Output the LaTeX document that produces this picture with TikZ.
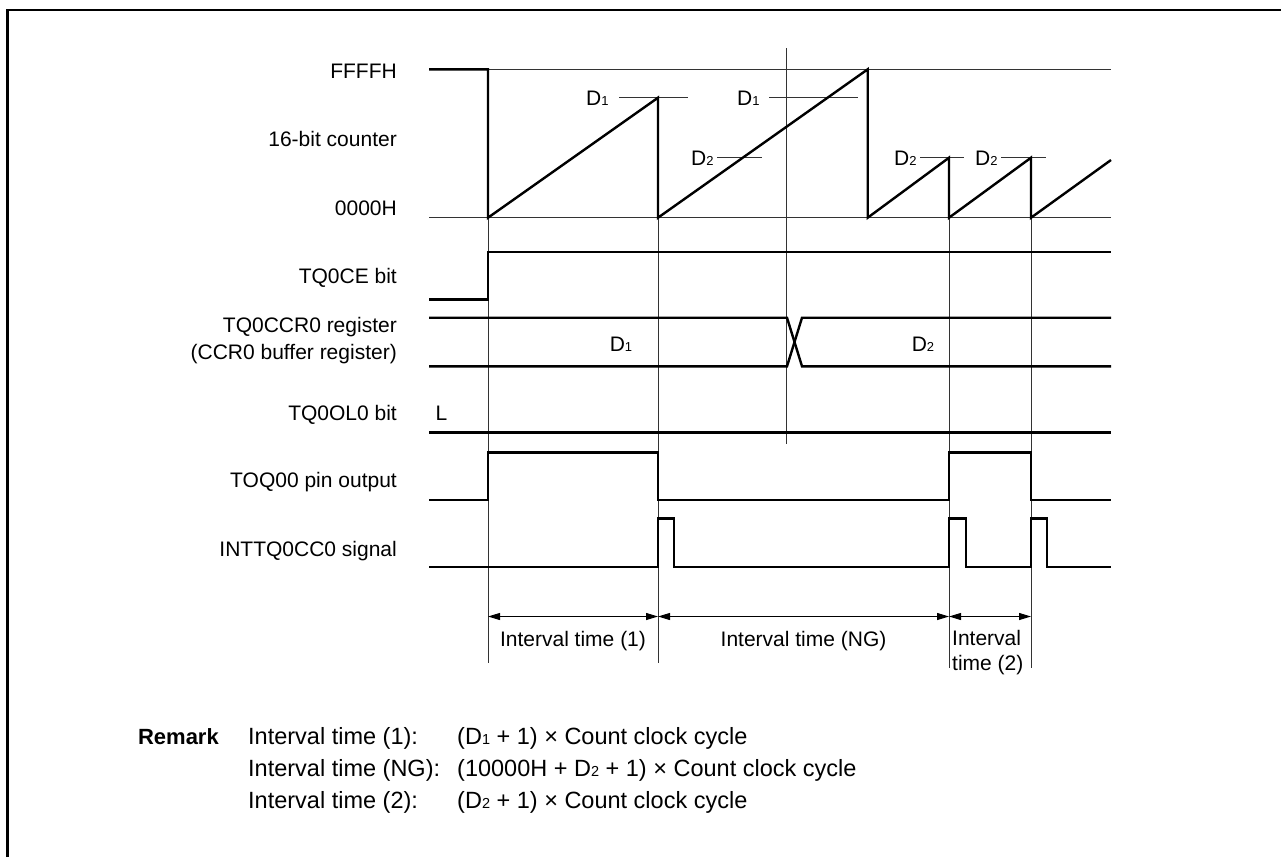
\documentclass[tikz,border=0pt]{standalone}
\usepackage{fontspec}
\setmainfont{Liberation Sans}
\usetikzlibrary{arrows.meta}
\newcommand\sbs[1]{{\fontsize{13}{13}\selectfont #1}}
\newcommand\sbr[1]{{\fontsize{14.5}{14.5}\selectfont #1}}
\begin{document}
\begin{tikzpicture}[x=1pt,y=-1pt,
  sig/.style={line width=2.4pt, line join=miter},
  thn/.style={line width=0.9pt, black!80},
  lbl/.style={anchor=base east, inner sep=0pt, font=\fontsize{21}{25}\selectfont},
  txt/.style={anchor=base, inner sep=0pt, font=\fontsize{21}{25}\selectfont},
  txtw/.style={anchor=base west, inner sep=0pt, font=\fontsize{21}{25}\selectfont},
  remw/.style={anchor=base west, inner sep=0pt, font=\fontsize{23.5}{28}\selectfont},
  dim/.style={line width=1pt, {Triangle[length=12pt,width=7pt]}-{Triangle[length=12pt,width=7pt]}}
]
\fill[white] (0,0) rectangle (1281,857);
\useasboundingbox (0,0) rectangle (1281,857);
% frame
\draw[line width=2.7pt] (7.5,857) -- (7.5,10) -- (1281,10);

% row labels
\node[lbl] (lF) at (397,78) {FFFFH};
\node[lbl] (lC) at (397,146.5) {16-bit counter};
\node[lbl] (l0) at (397,215.5) {0000H};
\node[lbl] (lCE) at (397,283.5) {TQ0CE bit};
\node[lbl] (lCCR) at (397,332.5) {TQ0CCR0 register};
\node[lbl] (lBuf) at (397,359) {(CCR0 buffer register)};
\node[lbl] (lOL) at (397,420) {TQ0OL0 bit};
\node[lbl] (lTO) at (397,487.5) {TOQ00 pin output};
\node[lbl] (lINT) at (397,556) {INTTQ0CC0 signal};

% thin reference lines
\draw[thn] (429,69.3) -- (1111,69.3);
\draw[thn] (429,217.7) -- (1111,217.7);
\draw[thn] (786,48) -- (786,444);
\draw[thn] (488,217.7) -- (488,663);
\draw[thn] (658,97.7) -- (658,663);
\draw[thn] (949,157.7) -- (949,668);
\draw[thn] (1031,157.7) -- (1031,668);

% compare level ticks and labels
\draw[thn] (619,97.7) -- (688,97.7);
\node[txtw] (d1a) at (586,105) {D\sbs{1}};
\draw[thn] (769,97.7) -- (858,97.7);
\node[txtw] (d1b) at (737,105) {D\sbs{1}};
\draw[thn] (717,157.7) -- (762,157.7);
\node[txtw] (d2a) at (691,165) {D\sbs{2}};
\draw[thn] (920,157.7) -- (964,157.7);
\node[txtw] (d2b) at (894,165) {D\sbs{2}};
\draw[thn] (1001,157.7) -- (1046,157.7);
\node[txtw] (d2c) at (975,165) {D\sbs{2}};

% counter
\draw[sig] (429,69.3) -- (488,69.3) -- (488,217.7) -- (658,97.7) -- (658,217.7)
  -- (867.7,69.3) -- (867.7,217.7) -- (949,157.7) -- (949,217.7)
  -- (1031,157.7) -- (1031,217.7) -- (1111,160);

% TQ0CE
\draw[sig] (429,299.3) -- (488,299.3) -- (488,252) -- (1111,252);

% CCR0
\draw[sig] (429,317.7) -- (787,317.7) -- (802,366.3) -- (1111,366.3);
\draw[sig] (429,366.3) -- (787,366.3) -- (802,317.7) -- (1111,317.7);
\node[txt] (cd1) at (621,351.5) {D\sbs{1}};
\node[txt] (cd2) at (923,351.5) {D\sbs{2}};

% TQ0OL0
\node[txt] (Ll) at (441.5,420.5) {L};
\draw[sig] (429,432.3) -- (1111,432.3);

% TOQ00
\draw[sig] (429,500) -- (488,500) -- (488,452.3) -- (658,452.3) -- (658,500)
  -- (949,500) -- (949,452.3) -- (1031,452.3) -- (1031,500) -- (1111,500);

% INTTQ0CC0
\draw[sig] (429,566.7) -- (658,566.7) -- (658,518.3) -- (674,518.3) -- (674,566.7)
  -- (949,566.7) -- (949,518.3) -- (966,518.3) -- (966,566.7)
  -- (1031,566.7) -- (1031,518.3) -- (1047,518.3) -- (1047,566.7) -- (1111,566.7);

% interval arrows
\coordinate (a0) at (488,616.5);
\coordinate (a1) at (658,616.5);
\coordinate (a2) at (949,616.5);
\coordinate (a3) at (1031,616.5);
\draw[dim] (a0) -- (a1);
\draw[dim] (a1) -- (a2);
\draw[dim] (a2) -- (a3);
\node[txt] (i1) at (573,646.5) {Interval time (1)};
\node[txt] (iNG) at (803.5,646.5) {Interval time (NG)};
\node[txtw] (i2a) at (952,645.5) {Interval};
\node[txtw] (i2b) at (952,670) {time (2)};

% remark
\node[anchor=base east, inner sep=0pt, font=\fontsize{22}{26}\selectfont\bfseries] (rem) at (219,744) {Remark};
\node[remw] (r1a) at (248,744) {Interval time (1):};
\node[remw] (r1b) at (457,744) {(D\sbr{1} + 1) × Count clock cycle};
\node[remw] (r2a) at (248,776) {Interval time (NG):};
\node[remw] (r2b) at (457,776) {(10000H + D\sbr{2} + 1) × Count clock cycle};
\node[remw] (r3a) at (248,808) {Interval time (2):};
\node[remw] (r3b) at (457,808) {(D\sbr{2} + 1) × Count clock cycle};
\end{tikzpicture}
\end{document}
